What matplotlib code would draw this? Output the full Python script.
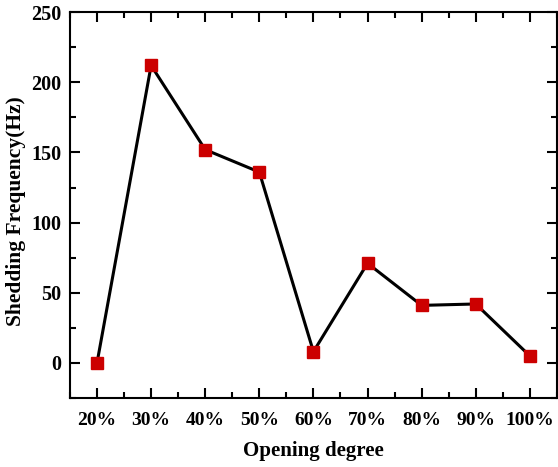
import matplotlib
matplotlib.use("Agg")
from matplotlib import pyplot as plt
from matplotlib.ticker import MultipleLocator

# dados
aberturas = ["20%", "30%", "40%", "50%", "60%", "70%", "80%", "90%", "100%"]
frequencia = [0, 212, 152, 136, 8, 71, 41, 42, 5]

plt.rcParams['font.family'] = ['Liberation Serif', 'DejaVu Serif']
plt.rcParams['font.weight'] = 'bold'

fig = plt.figure(figsize=(5.58, 4.67), dpi=100)
ax = fig.add_axes([0.1254, 0.1478, 0.8726, 0.8262])

x = list(range(len(aberturas)))
ax.plot(x, frequencia, color='black', linewidth=2.2, marker='s',
        markersize=8.5, markerfacecolor='#cc0000', markeredgecolor='#cc0000', zorder=3)

ax.set_xlim(-0.5, 8.5)
ax.set_ylim(-25, 250)
ax.set_xticks(x)
ax.set_xticklabels(aberturas)
ax.xaxis.set_minor_locator(MultipleLocator(0.5))
ax.yaxis.set_major_locator(MultipleLocator(50))
ax.yaxis.set_minor_locator(MultipleLocator(25))

ax.tick_params(which='both', direction='in', top=True, right=True, width=1.5)
ax.tick_params(axis='x', labelsize=14, pad=10)
ax.tick_params(axis='y', labelsize=14.5, pad=6)
ax.tick_params(which='major', length=7)
ax.tick_params(which='minor', length=4)
for lbl in ax.get_xticklabels() + ax.get_yticklabels():
    lbl.set_fontweight('bold')
for s in ax.spines.values():
    s.set_linewidth(1.5)

ax.set_xlabel("Opening degree", fontsize=15, fontweight='bold', labelpad=9)
ax.set_ylabel("Shedding Frequency(Hz)", fontsize=15.5, fontweight='bold')
ax.yaxis.set_label_coords(-0.09, 0.485)

fig.savefig("out.png", dpi=100)
